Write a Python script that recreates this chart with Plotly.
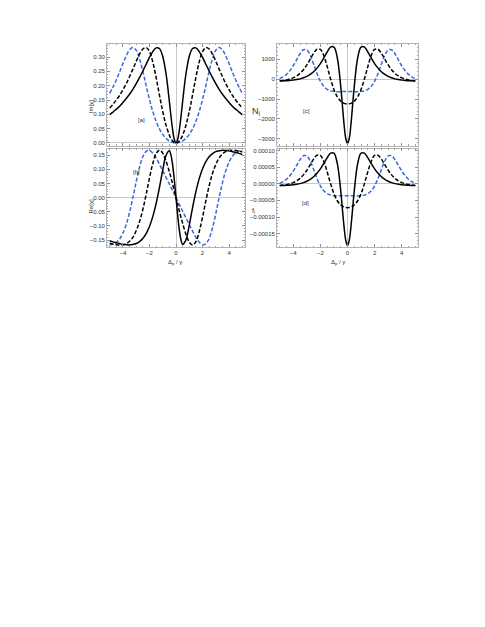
import plotly.graph_objects as go

# detuning grid (Delta_p / gamma)
delta = [-5.0, -4.75, -4.5, -4.25, -4.0, -3.75, -3.5, -3.25, -3.0, -2.75, -2.5, -2.25,
         -2.0, -1.75, -1.5, -1.25, -1.0, -0.75, -0.5, -0.375, -0.25, -0.125, 0.0,
         0.125, 0.25, 0.375, 0.5, 0.75, 1.0, 1.25, 1.5, 1.75, 2.0, 2.25, 2.5, 2.75,
         3.0, 3.25, 3.5, 3.75, 4.0, 4.25, 4.5, 4.75, 5.0]

# [a] Im[chi]
im_solid = [0.099, 0.108, 0.118, 0.128, 0.141, 0.155, 0.170, 0.187, 0.207, 0.228, 0.251, 0.275,
            0.299, 0.319, 0.332, 0.330, 0.302, 0.241, 0.145, 0.092, 0.045, 0.012, 0.0,
            0.012, 0.045, 0.092, 0.145, 0.241, 0.302, 0.330, 0.332, 0.319, 0.299, 0.275,
            0.251, 0.228, 0.207, 0.187, 0.170, 0.155, 0.141, 0.128, 0.118, 0.108, 0.099]
im_dashed = [0.122, 0.135, 0.150, 0.166, 0.186, 0.207, 0.232, 0.258, 0.285, 0.310, 0.328, 0.333,
             0.319, 0.283, 0.229, 0.168, 0.110, 0.062, 0.027, 0.015, 0.007, 0.002, 0.0,
             0.002, 0.007, 0.015, 0.027, 0.062, 0.110, 0.168, 0.229, 0.283, 0.319, 0.333,
             0.328, 0.310, 0.285, 0.258, 0.232, 0.207, 0.186, 0.166, 0.150, 0.135, 0.122]
im_blue = [0.173, 0.195, 0.220, 0.248, 0.277, 0.304, 0.325, 0.333, 0.324, 0.294, 0.251, 0.200,
           0.152, 0.110, 0.076, 0.049, 0.030, 0.016, 0.007, 0.004, 0.002, 0.000, 0.0,
           0.000, 0.002, 0.004, 0.007, 0.016, 0.030, 0.049, 0.076, 0.110, 0.152, 0.200,
           0.251, 0.294, 0.324, 0.333, 0.325, 0.304, 0.277, 0.248, 0.220, 0.195, 0.173]

# [b] Re[chi]
re_solid = [-0.152, -0.156, -0.159, -0.162, -0.165, -0.166, -0.167, -0.165, -0.162, -0.155, -0.144, -0.127,
            -0.102, -0.067, -0.021, 0.035, 0.097, 0.149, 0.165, 0.149, 0.114, 0.062, 0.0,
            -0.062, -0.114, -0.149, -0.165, -0.149, -0.097, -0.035, 0.021, 0.067, 0.102, 0.127,
            0.144, 0.155, 0.162, 0.165, 0.167, 0.166, 0.165, 0.162, 0.159, 0.156, 0.152]
re_dashed = [-0.161, -0.164, -0.166, -0.167, -0.166, -0.162, -0.154, -0.140, -0.117, -0.085, -0.042, 0.011,
             0.069, 0.120, 0.155, 0.167, 0.157, 0.129, 0.091, 0.070, 0.047, 0.024, 0.0,
             -0.024, -0.047, -0.070, -0.091, -0.129, -0.157, -0.167, -0.155, -0.120, -0.069, -0.011,
             0.042, 0.085, 0.117, 0.140, 0.154, 0.162, 0.166, 0.167, 0.166, 0.164, 0.161]
re_blue = [-0.167, -0.164, -0.158, -0.146, -0.125, -0.095, -0.052, 0.0, 0.056, 0.107, 0.144, 0.163,
           0.166, 0.157, 0.140, 0.118, 0.095, 0.071, 0.048, 0.036, 0.024, 0.012, 0.0,
           -0.012, -0.024, -0.036, -0.048, -0.071, -0.095, -0.118, -0.140, -0.157, -0.166, -0.163,
           -0.144, -0.107, -0.056, 0.0, 0.052, 0.095, 0.125, 0.146, 0.158, 0.164, 0.167]

# [c] N_i
n_solid = [-95, -90, -84, -70, -54, -28, 9, 61, 133, 233, 368, 547,
           776, 1055, 1355, 1599, 1603, 1052, -368, -1330, -2300, -2990, -3220,
           -2990, -2300, -1330, -368, 1052, 1603, 1599, 1355, 1055, 776, 547,
           368, 233, 133, 61, 9, -28, -54, -70, -84, -90, -95]
n_dashed = [-87, -69, -42, 7, 61, 153, 284, 466, 706, 995, 1289, 1494,
            1484, 1178, 630, 10, -520, -888, -1107, -1167, -1216, -1239, -1247,
            -1239, -1216, -1167, -1107, -888, -520, 10, 630, 1178, 1484, 1494,
            1289, 995, 706, 466, 284, 153, 61, 7, -42, -69, -87]
n_blue = [20, 107, 236, 420, 666, 964, 1264, 1467, 1457, 1190, 746, 275,
          -109, -367, -517, -593, -624, -632, -630, -628, -626, -626, -625,
          -626, -626, -628, -630, -632, -624, -593, -517, -367, -109, 275,
          746, 1190, 1457, 1467, 1264, 964, 666, 420, 236, 107, 20]

# [d] f_i
f_solid = [-0.055e-4, -0.052e-4, -0.048e-4, -0.040e-4, -0.031e-4, -0.016e-4, 0.005e-4, 0.035e-4,
           0.077e-4, 0.134e-4, 0.212e-4, 0.315e-4, 0.447e-4, 0.607e-4, 0.780e-4, 0.920e-4,
           0.923e-4, 0.606e-4, -0.21e-4, -0.77e-4, -1.31e-4, -1.71e-4, -1.86e-4,
           -1.71e-4, -1.31e-4, -0.77e-4, -0.21e-4, 0.606e-4, 0.923e-4, 0.920e-4, 0.780e-4,
           0.607e-4, 0.447e-4, 0.315e-4, 0.212e-4, 0.134e-4, 0.077e-4, 0.035e-4, 0.005e-4,
           -0.016e-4, -0.031e-4, -0.040e-4, -0.048e-4, -0.052e-4, -0.055e-4]
f_dashed = [-0.050e-4, -0.040e-4, -0.024e-4, 0.004e-4, 0.035e-4, 0.088e-4, 0.163e-4, 0.268e-4,
            0.407e-4, 0.573e-4, 0.742e-4, 0.860e-4, 0.855e-4, 0.678e-4, 0.363e-4, 0.006e-4,
            -0.299e-4, -0.511e-4, -0.637e-4, -0.672e-4, -0.700e-4, -0.714e-4, -0.718e-4,
            -0.714e-4, -0.700e-4, -0.672e-4, -0.637e-4, -0.511e-4, -0.299e-4, 0.006e-4, 0.363e-4,
            0.678e-4, 0.855e-4, 0.860e-4, 0.742e-4, 0.573e-4, 0.407e-4, 0.268e-4, 0.163e-4,
            0.088e-4, 0.035e-4, 0.004e-4, -0.024e-4, -0.040e-4, -0.050e-4]
f_blue = [0.012e-4, 0.062e-4, 0.136e-4, 0.242e-4, 0.383e-4, 0.555e-4, 0.728e-4, 0.844e-4,
          0.839e-4, 0.685e-4, 0.429e-4, 0.158e-4, -0.063e-4, -0.211e-4, -0.298e-4, -0.341e-4,
          -0.359e-4, -0.364e-4, -0.363e-4, -0.362e-4, -0.361e-4, -0.360e-4, -0.360e-4,
          -0.360e-4, -0.361e-4, -0.362e-4, -0.363e-4, -0.364e-4, -0.359e-4, -0.341e-4, -0.298e-4,
          -0.211e-4, -0.063e-4, 0.158e-4, 0.429e-4, 0.685e-4, 0.839e-4, 0.844e-4, 0.728e-4,
          0.555e-4, 0.383e-4, 0.242e-4, 0.136e-4, 0.062e-4, 0.012e-4]

W, H = 485, 627
OFF = 8  # the page body adds an 8px margin around the plot div
BLUE = '#3c68dc'
FRAME = '#b4b4b4'
FONT = 'Liberation Sans, Arial, sans-serif'


# convert window pixel positions to paper fractions
def fx(p):
    return (p - OFF) / W


def fy(p):
    return 1 - (p - OFF) / H


fig = go.Figure()

series = [
    ('x', 'y', im_blue, im_dashed, im_solid),
    ('x2', 'y2', re_blue, re_dashed, re_solid),
    ('x3', 'y3', n_blue, n_dashed, n_solid),
    ('x4', 'y4', f_blue, f_dashed, f_solid),
]
for xa, ya, blue, dashed, solid in series:
    fig.add_trace(go.Scatter(x=delta, y=blue, xaxis=xa, yaxis=ya, mode='lines',
                             line=dict(color=BLUE, width=1.5, dash='4px,2px', shape='spline')))
    fig.add_trace(go.Scatter(x=delta, y=dashed, xaxis=xa, yaxis=ya, mode='lines',
                             line=dict(color='black', width=1.5, dash='4px,2px', shape='spline')))
    fig.add_trace(go.Scatter(x=delta, y=solid, xaxis=xa, yaxis=ya, mode='lines',
                             line=dict(color='black', width=1.5, shape='spline')))

common = dict(showline=True, linecolor=FRAME, linewidth=0.8, mirror='ticks',
              ticks='inside', ticklen=3, tickwidth=0.6, tickcolor='#909090',
              showgrid=False, zeroline=True, zerolinecolor='#c8c8c8', zerolinewidth=0.8,
              tickfont=dict(size=6, color='#333', family=FONT))

left = [fx(107), fx(245)]
right = [fx(277), fx(418)]
top = [fy(145), fy(43)]
bottom = [fy(247), fy(148)]

xcommon = dict(common, range=[-5.2, 5.2], tickvals=[-4, -2, 0, 2, 4],
               minor=dict(ticks='inside', ticklen=1.5, tickcolor='#a0a0a0', dtick=0.5, tick0=0))

fig.update_layout(
    width=W, height=H, margin=dict(l=0, r=0, t=0, b=0),
    paper_bgcolor='white', plot_bgcolor='white', showlegend=False,
    font=dict(family=FONT, size=6, color='#333'),
    xaxis=dict(xcommon, domain=left, anchor='y', showticklabels=False),
    xaxis2=dict(xcommon, domain=left, anchor='y2'),
    xaxis3=dict(xcommon, domain=right, anchor='y3', showticklabels=False),
    xaxis4=dict(xcommon, domain=right, anchor='y4'),
    yaxis=dict(common, domain=top, anchor='x', range=[-0.009, 0.346], dtick=0.05,
               tickformat='.2f', minor=dict(ticks='inside', ticklen=1.5, tickcolor='#a0a0a0', dtick=0.01)),
    yaxis2=dict(common, domain=bottom, anchor='x2', range=[-0.175, 0.173], dtick=0.05,
                tickformat='.2f', minor=dict(ticks='inside', ticklen=1.5, tickcolor='#a0a0a0', dtick=0.01)),
    yaxis3=dict(common, domain=top, anchor='x3', range=[-3330, 1760], dtick=1000,
                tickformat='d', minor=dict(ticks='inside', ticklen=1.5, tickcolor='#a0a0a0', dtick=200)),
    yaxis4=dict(common, domain=bottom, anchor='x4', range=[-1.91e-4, 1.06e-4], dtick=5e-5,
                tickformat='.5f', minor=dict(ticks='inside', ticklen=1.5, tickcolor='#a0a0a0', dtick=1e-5)),
)

notes = [
    ('Im[χ]', 86, 98, 6, -90),
    ('Re[χ]', 86, 197, 6, -90),
    ('N<sub>i</sub>', 256, 103, 9, 0),
    ('f<sub>i</sub>', 253, 205, 7, 0),
    ('[a]', 136, 114, 6, 0),
    ('[b]', 131, 167, 6, 0),
    ('[c]', 306, 105, 6, 0),
    ('[d]', 305, 198, 6, 0),
    ('Δ<sub>p</sub> / γ', 175, 262, 6, 0),
    ('Δ<sub>p</sub> / γ', 347, 262, 6, 0),
]
for text, x, y, size, angle in notes:
    fig.add_annotation(text=text, x=fx(x), y=fy(y), xref='paper', yref='paper',
                       showarrow=False, textangle=angle,
                       font=dict(size=size, color='#333', family=FONT))

fig.write_html("out.html")
